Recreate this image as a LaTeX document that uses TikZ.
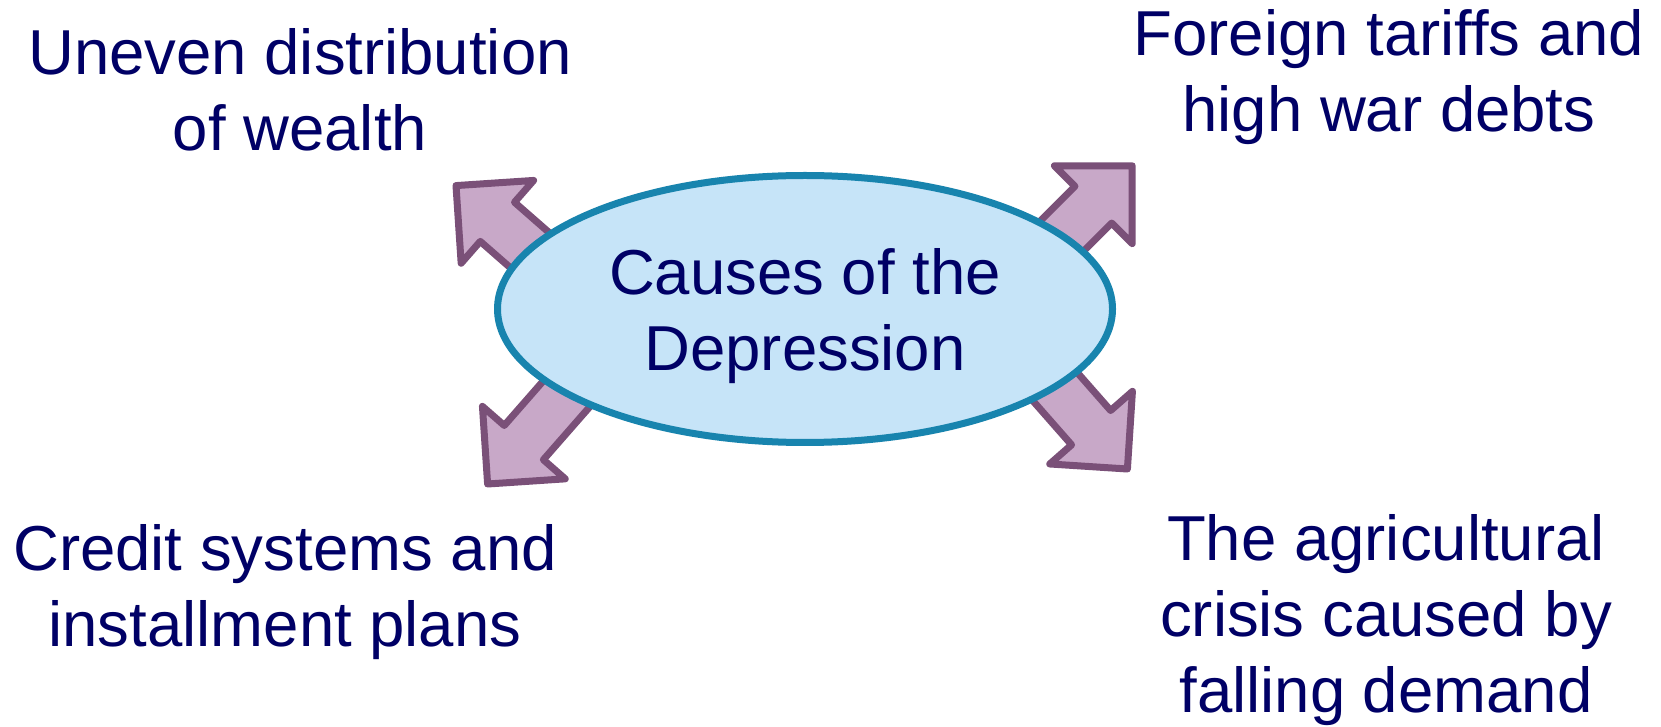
\documentclass[tikz,border=0pt]{standalone}
\usepackage{fontspec}
\setmainfont{Liberation Sans}
\definecolor{txtnavy}{RGB}{0,0,102}
\definecolor{ellfill}{RGB}{198,228,248}
\definecolor{elldraw}{RGB}{24,132,174}
\definecolor{arrfill}{RGB}{200,168,200}
\definecolor{arrdraw}{RGB}{122,80,120}
\usetikzlibrary{shapes.geometric}
\tikzset{
  lbl/.style={text=txtnavy, align=center, inner sep=0pt, font=\fontsize{63.5}{76}\selectfont, anchor=base},
  bigarrow/.style={fill=arrfill, draw=arrdraw, line width=7pt, line join=round},
  hub/.style={ellipse, fill=ellfill, draw=elldraw, line width=7pt, minimum width=615pt, minimum height=267pt, inner sep=0pt}
}
\newcommand{\causearrow}[3]{%
  \begin{scope}[shift={(#1,#2)}, rotate=#3]
    \draw[bigarrow] (0,0) -- (55,55) -- (55,26) -- (250,26) -- (250,-26) -- (55,-26) -- (55,-55) -- cycle;
  \end{scope}}
\begin{document}
\begin{tikzpicture}[x=1pt,y=1pt]
  \useasboundingbox[fill=white] (0,0) rectangle (1661,726);
  \causearrow{456}{540.4}{-41.2}
  \causearrow{1132.2}{560.2}{-135}
  \causearrow{487.6}{242}{48.8}
  \causearrow{1127.4}{257}{131.3}
  \node[hub] (hub) at (805,417) {};
  \node[lbl] (causes) at (805,355) {Causes of the\\Depression};
  \node[lbl] (wealth) at (300,575) {Uneven distribution\\of wealth};
  \node[lbl] (tariffs) at (1389,594) {Foreign tariffs and\\high war debts};
  \node[lbl] (credit) at (285,80) {Credit systems and\\installment plans};
  \node[lbl] (agri) at (1386,14) {The agricultural\\crisis caused by\\falling demand};
\end{tikzpicture}
\end{document}
